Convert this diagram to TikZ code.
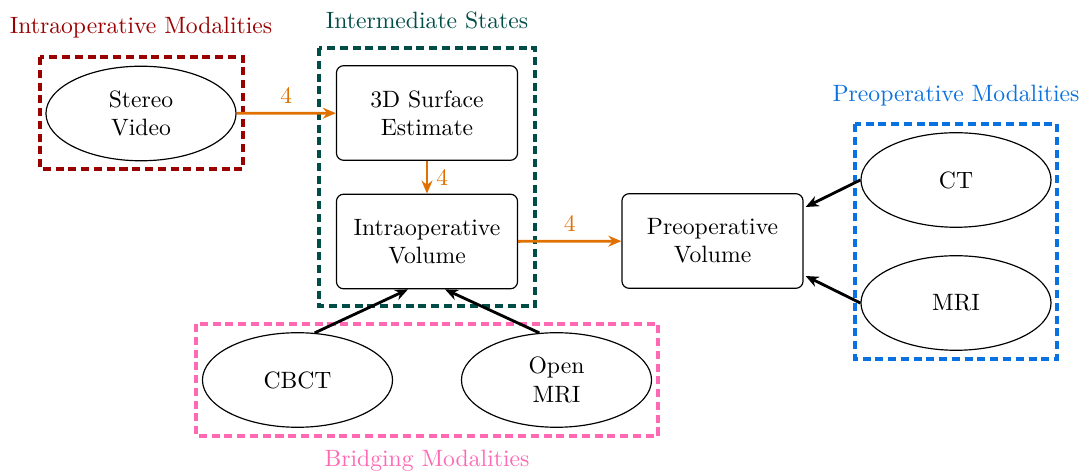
\documentclass[tikz,border=0pt]{standalone}
\usetikzlibrary{shapes.geometric,arrows.meta,calc}

\definecolor{intrared}{RGB}{153,0,0}
\definecolor{midteal}{RGB}{0,77,72}
\definecolor{preblue}{RGB}{10,114,224}
\definecolor{bridgepink}{RGB}{255,105,180}
\definecolor{flow}{RGB}{224,112,0}

\begin{document}
\begin{tikzpicture}[x=0.423pt,y=-0.423pt,
  modality/.style={ellipse,draw,line width=0.5pt,minimum width=80.4pt,minimum height=40pt,inner sep=0pt,align=center},
  state/.style={rectangle,rounded corners=3pt,draw,line width=0.5pt,minimum width=76.6pt,minimum height=40pt,inner sep=0pt,align=center},
  groupbox/.style={draw=#1,dash pattern=on 3.4pt off 2pt,line width=1.3pt},
  grouplabel/.style={text=#1,inner sep=0pt},
  flowarrow/.style={draw=flow,line width=1.2pt,-{Stealth[length=5.5pt,width=4.6pt]}},
  feed/.style={draw=black,line width=1.2pt,-{Stealth[length=5.5pt,width=4.6pt]}},
  count/.style={text=flow}]

\useasboundingbox (0,0) rectangle (1081,473);

% dashed group frames
\draw[groupbox=intrared] (40,57) rectangle (243,169);
\draw[groupbox=midteal] (319,48) rectangle (535,306);
\draw[groupbox=preblue] (855,124) rectangle (1057,359);
\draw[groupbox=bridgepink] (196,324) rectangle (658,436);

% group titles
\node[grouplabel=intrared] (intratitle) at (141,28) {Intraoperative Modalities};
\node[grouplabel=midteal] (midtitle) at (427,20) {Intermediate States};
\node[grouplabel=preblue] (pretitle) at (956,96) {Preoperative Modalities};
\node[grouplabel=bridgepink] (bridgetitle) at (427,461) {Bridging Modalities};

% modalities
\node[modality] (stereo) at (141,113.5) {Stereo\\Video};
\node[modality] (ct) at (956,180) {CT};
\node[modality] (mri) at (956,303) {MRI};
\node[modality] (cbct) at (297.5,380) {CBCT};
\node[modality] (openmri) at (556.5,380) {Open\\MRI};

% volumes and surfaces
\node[state] (surface) at (427,113) {3D Surface\\Estimate};
\node[state] (intravol) at (427,241.5) {Intraoperative\\Volume};
\node[state] (prevol) at (712.5,241) {Preoperative\\Volume};

% registration flow
\draw[flowarrow] (stereo) -- node[count,above] {4} (surface);
\draw[flowarrow] (surface) -- node[count,right] {4} (intravol);
\draw[flowarrow] (intravol) -- node[count,above] {4} (prevol);

% preoperative inputs
\draw[feed] (ct.west) -- ($(prevol.east)+(2,-34)$);
\draw[feed] (mri.west) -- ($(prevol.east)+(2,35)$);

% bridging inputs
\draw[feed] (cbct.70) -- ($(intravol.south)+(-19,0)$);
\draw[feed] (openmri.110) -- ($(intravol.south)+(18,0)$);
\end{tikzpicture}
\end{document}
